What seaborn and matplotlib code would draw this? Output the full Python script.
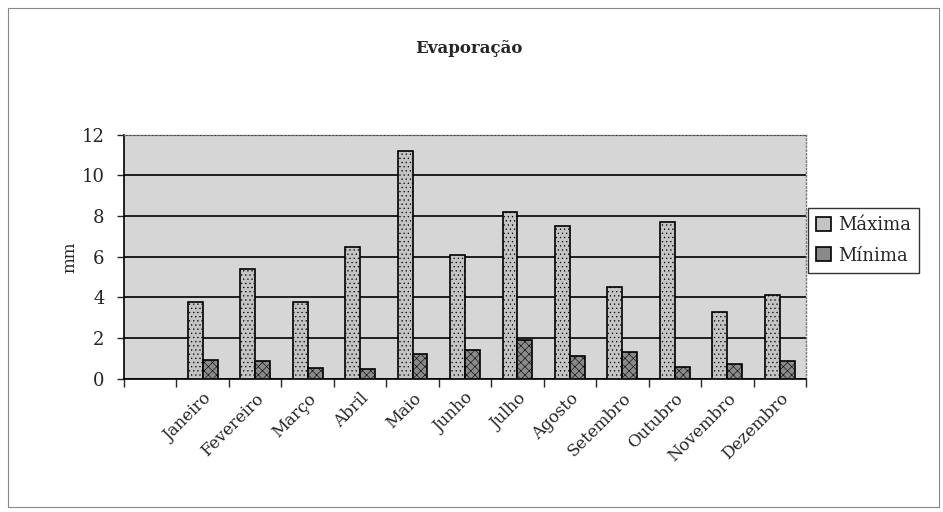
import pandas as pd
import matplotlib
matplotlib.use("Agg")
import matplotlib.pyplot as plt
import seaborn as sns
from matplotlib.patches import Rectangle
from matplotlib.ticker import FixedLocator

meses = ["Janeiro", "Fevereiro", "Março", "Abril", "Maio", "Junho",
         "Julho", "Agosto", "Setembro", "Outubro", "Novembro", "Dezembro"]
maxima = [3.8, 5.4, 3.8, 6.5, 11.2, 6.1, 8.2, 7.5, 4.5, 7.7, 3.3, 4.1]
minima = [0.95, 0.9, 0.55, 0.5, 1.2, 1.4, 1.9, 1.1, 1.3, 0.6, 0.75, 0.9]
series = ["Máxima", "Mínima"]
y_ticks = [0, 2, 4, 6, 8, 10, 12]

df = pd.DataFrame({
    "mes": meses * 2,
    "valor": maxima + minima,
    "serie": [series[0]] * len(meses) + [series[1]] * len(meses),
})

sns.set_style("white")
plt.rcParams["font.family"] = ["DejaVu Serif"]
plt.rcParams["hatch.linewidth"] = 0.4
plt.rcParams["hatch.color"] = "#555555"

fig = plt.figure(figsize=(9.43, 5.12), dpi=100)
ax = fig.add_axes([0.1315, 0.26, 0.7232, 0.477])
ax.set_facecolor("#d6d6d6")

sns.barplot(data=df, x="mes", y="valor", hue="serie", order=meses, hue_order=series,
            palette={"Máxima": "#c4c4c4", "Mínima": "#8a8a8a"},
            width=0.57, edgecolor="black", linewidth=1.2, ax=ax, zorder=3)

for bar in ax.patches[:len(meses)]:
    bar.set_hatch("....")
for bar in ax.patches[len(meses):2 * len(meses)]:
    bar.set_hatch("xxxx")

# the original axis has an empty slot before Janeiro
ax.set_xlim(-1.5, len(meses) - 0.5)
ax.set_ylim(0, 12)
ax.set_yticks(y_ticks)
ax.yaxis.grid(True, color="black", linewidth=1.2, zorder=1)
ax.set_axisbelow(True)
ax.tick_params(axis="y", labelsize=13, length=5, width=1, direction="out", left=True, pad=9)
ax.tick_params(axis="x", which="major", length=0, labelsize=12, pad=8)
ax.xaxis.set_minor_locator(FixedLocator([i - 0.5 for i in range(-1, len(meses) + 1)]))
ax.tick_params(axis="x", which="minor", length=6, width=1, direction="out", bottom=True)
ax.set_xticks(range(len(meses)))
ax.set_xticklabels(meses, rotation=45, ha="right", rotation_mode="anchor")

for side in ["left", "bottom"]:
    ax.spines[side].set_color("black")
    ax.spines[side].set_linewidth(1.2)
for side in ["top", "right"]:
    ax.spines[side].set_color("#777777")
    ax.spines[side].set_linestyle(":")
    ax.spines[side].set_linewidth(1)

ax.set_xlabel("")
ax.set_ylabel("mm", fontsize=12, labelpad=2)
fig.text(0.497, 0.905, "Evaporação", ha="center", va="center", fontsize=12, fontweight="bold")

handles, labels = ax.get_legend_handles_labels()
ax.get_legend().remove()
leg = fig.legend(handles, labels, loc="upper left", bbox_to_anchor=(0.857, 0.594),
                 fontsize=13, frameon=True, fancybox=False, edgecolor="black",
                 handlelength=0.8, handleheight=0.8, handletextpad=0.4,
                 borderpad=0.45, labelspacing=0.7, borderaxespad=0)
leg.get_frame().set_linewidth(1)

fig.patches.append(Rectangle((0.008, 0.01), 0.988, 0.975, transform=fig.transFigure,
                             fill=False, edgecolor="#888888", linewidth=0.8))

fig.savefig("out.png", dpi=100)
